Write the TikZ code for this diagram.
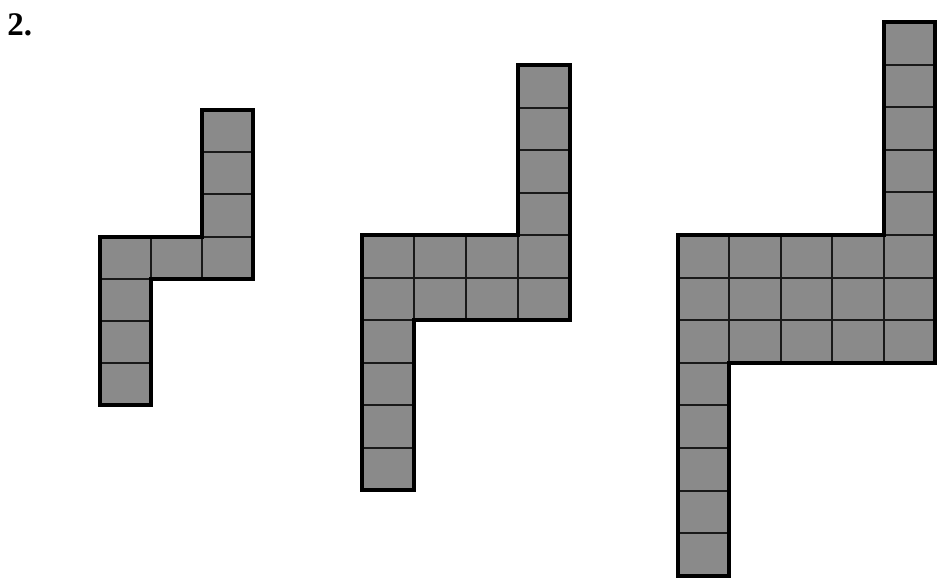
\documentclass[tikz,border=0pt]{standalone}
\usepackage{fontspec}
\setmainfont{Liberation Serif}
\usepackage{tikz}
\usetikzlibrary{positioning}
\usepackage{xcolor}
\definecolor{tilegray}{RGB}{138,138,138}

\begin{document}
\begin{tikzpicture}[x=0.5pt, y=-0.5pt]
\tikzset{tile/.style={fill=tilegray},
  gridline/.style={line width=1pt, black!90},
  rim/.style={line width=2pt, line join=miter}}
\useasboundingbox (0,0) rectangle (941,584);
\node[font=\fontsize{16.5}{16.5}\selectfont\bfseries, anchor=base west, inner sep=0pt] (num) at (7,35) {2.};
% n, left edge, top edge, cell width, cell height (pixels)
\foreach \n/\xo/\yo/\cw/\ch in {1/100/110/51/42.2, 2/362/65/52/42.5, 3/678/22/51.4/42.6}{
  \pgfmathtruncatemacro\m{\n+2}
  \pgfmathtruncatemacro\mm{\m-1}
  \pgfmathtruncatemacro\r{\m+\n}
  \pgfmathtruncatemacro\t{2*\m+\n}
  \pgfmathtruncatemacro\tt{\t-1}
  \begin{scope}[shift={(\xo,\yo)}, x=\cw*0.5pt, y=-\ch*0.5pt]
    \fill[tile] (\mm,0) -- (\m,0) -- (\m,\r) -- (1,\r) -- (1,\t) -- (0,\t) -- (0,\m) -- (\mm,\m) -- cycle;
    \begin{scope}
      \clip (\mm,0) -- (\m,0) -- (\m,\r) -- (1,\r) -- (1,\t) -- (0,\t) -- (0,\m) -- (\mm,\m) -- cycle;
      \foreach \i in {1,...,\mm} \draw[gridline] (\i,0) -- (\i,\t);
      \foreach \j in {1,...,\tt} \draw[gridline] (0,\j) -- (\m,\j);
    \end{scope}
    \draw[rim] (\mm,0) -- (\m,0) -- (\m,\r) -- (1,\r) -- (1,\t) -- (0,\t) -- (0,\m) -- (\mm,\m) -- cycle;
  \end{scope}
}
\end{tikzpicture}
\end{document}
